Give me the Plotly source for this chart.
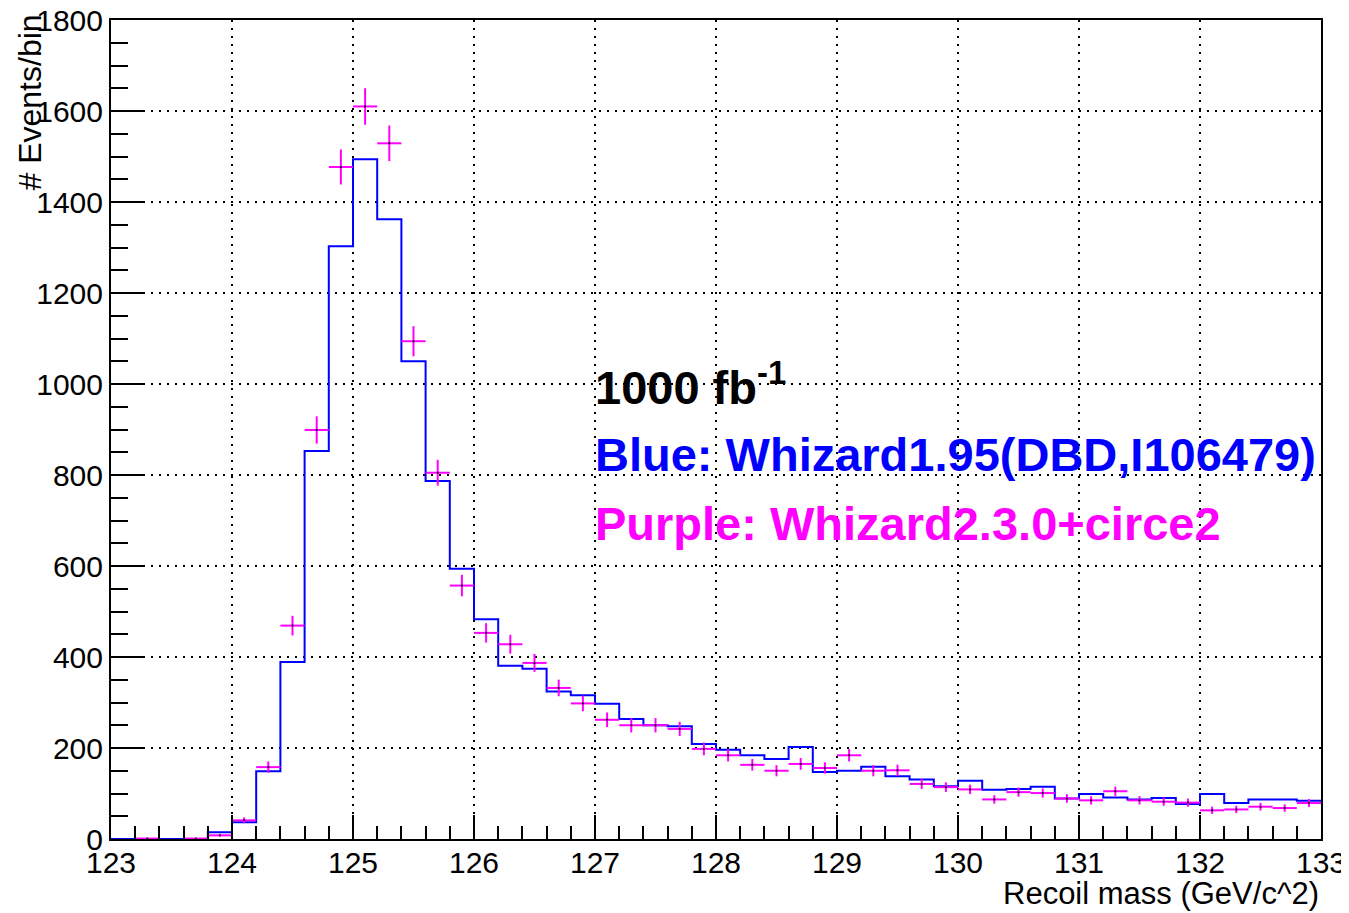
import numpy as np
import plotly.graph_objects as go

# Binning: 50 bins of 0.2 GeV from 123 to 133
x_min, x_max, n_bins = 123.0, 133.0, 50

# Blue: Whizard1.95 (histogram, events per bin)
blue_counts = [0, 0, 0, 0, 15,
               37, 149, 389, 853, 1303,
               1494, 1362, 1050, 787, 594,
               483, 381, 374, 324, 316,
               297, 264, 250, 248, 209,
               196, 184, 176, 202, 147,
               150, 159, 138, 131, 116,
               128, 108, 110, 115, 89,
               99, 91, 87, 90, 77,
               99, 79, 87, 87, 84]

# Purple: Whizard2.3.0+circe2 (points with errors)
purple_counts = [0, 1, 0, 1, 8,
                 41, 158, 469, 899, 1477,
                 1610, 1529, 1094, 805, 557,
                 453, 428, 387, 332, 298,
                 262, 250, 250, 242, 198,
                 184, 163, 150, 165, 156,
                 184, 150, 151, 121, 114,
                 109, 87, 103, 101, 89,
                 85, 105, 85, 82, 80,
                 63, 65, 71, 68, 79]

x_ticks = [123, 124, 125, 126, 127, 128, 129, 130, 131, 132, 133]
y_ticks = [0, 200, 400, 600, 800, 1000, 1200, 1400, 1600, 1800]

edges = np.linspace(x_min, x_max, n_bins + 1)
centers = 0.5 * (edges[:-1] + edges[1:])
half_w = 0.5 * (edges[1] - edges[0])

blue_y = list(blue_counts) + [blue_counts[-1]]

pc = np.array(purple_counts, dtype=float)
mask = pc > 0

fig = go.Figure()
fig.add_trace(go.Scatter(
    x=edges, y=blue_y, mode="lines", line=dict(shape="hv", color="#0000ff", width=2),
    showlegend=False, hoverinfo="skip"))
fig.add_trace(go.Scatter(
    x=centers[mask], y=pc[mask], mode="markers",
    marker=dict(color="black", size=2),
    error_x=dict(type="constant", value=half_w, color="#ff00ff", thickness=2, width=0),
    error_y=dict(type="data", array=np.sqrt(pc[mask]), color="#ff00ff", thickness=2, width=0),
    showlegend=False))

font_family = "Liberation Sans, Arial, sans-serif"

# page body has an 8px margin: figure is 1341x905 so the plot area lands at x 111..1321, y 19.5..839.5
fig.update_layout(
    width=1341, height=905,
    margin=dict(l=103, r=28, t=11.5, b=73.5, autoexpand=False),
    paper_bgcolor="white", plot_bgcolor="white",
    font=dict(family=font_family, color="black", size=30),
    xaxis=dict(range=[x_min, x_max], tickvals=x_ticks, ticktext=[str(v) for v in x_ticks],
               ticks="inside", ticklen=24, tickwidth=2, tickcolor="black",
               showline=True, linewidth=2, linecolor="black", mirror=True,
               showgrid=True, gridcolor="black", gridwidth=1.5, griddash="2px,6px",
               zeroline=False, tickfont=dict(size=30), automargin=False,
               ticklabelstandoff=-4, ticklabeloverflow="allow",
               minor=dict(dtick=0.2, ticks="inside", ticklen=13, tickwidth=2,
                          tickcolor="black", showgrid=False)),
    yaxis=dict(range=[0, 1800], tickvals=y_ticks, ticktext=[str(v) for v in y_ticks],
               ticks="inside", ticklen=34, tickwidth=2, tickcolor="black",
               showline=True, linewidth=2, linecolor="black", mirror=True,
               showgrid=True, gridcolor="black", gridwidth=1.5, griddash="2px,6px",
               zeroline=False, tickfont=dict(size=30), automargin=False,
               ticklabeloverflow="allow",
               minor=dict(dtick=50, ticks="inside", ticklen=17, tickwidth=2,
                          tickcolor="black", showgrid=False)),
)

annotations = [
    dict(text="1000 fb<sup>-1</sup>", x=0.398, y=(839.5 - 384) / 820, xref="paper", yref="paper",
         xanchor="left", yanchor="middle", showarrow=False,
         font=dict(family=font_family, size=47, color="black", weight="bold")),
    dict(text="Blue: Whizard1.95(DBD,I106479)", x=0.398, y=(839.5 - 455) / 820,
         xref="paper", yref="paper", xanchor="left", yanchor="middle", showarrow=False,
         font=dict(family=font_family, size=47, color="#0000ff", weight="bold")),
    dict(text="Purple: Whizard2.3.0+circe2", x=0.398, y=(839.5 - 524) / 820,
         xref="paper", yref="paper", xanchor="left", yanchor="middle", showarrow=False,
         font=dict(family=font_family, size=47, color="#ff00ff", weight="bold")),
    dict(text="Recoil mass (GeV/c^2)", x=1.0, y=(839.5 - 894) / 820,
         xref="paper", yref="paper", xanchor="right", yanchor="middle", showarrow=False,
         font=dict(family=font_family, size=31, color="black")),
    dict(text="# Events/bin", x=(30 - 111) / 1210, y=(839.5 - 12) / 820,
         xref="paper", yref="paper", xanchor="center", yanchor="top", showarrow=False,
         textangle=-90, font=dict(family=font_family, size=32, color="black")),
]
fig.update_layout(annotations=annotations)

fig.write_html("out.html")
